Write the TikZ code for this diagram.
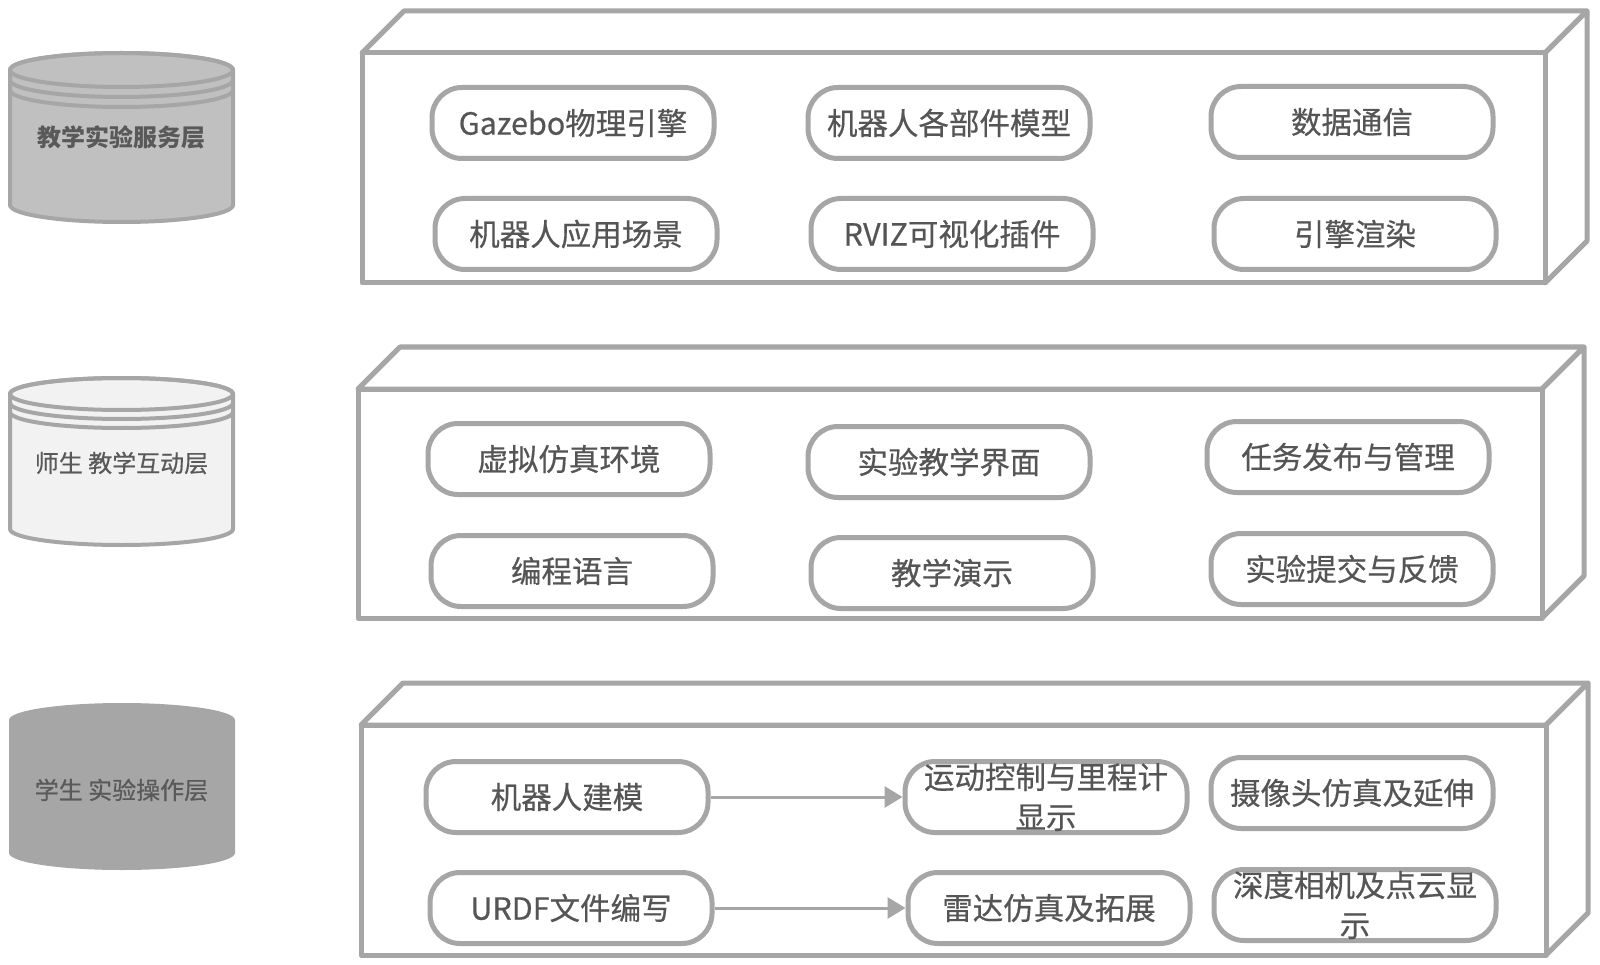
\documentclass[tikz,border=0pt]{standalone}
\usepackage{fontspec}
\setmainfont{Noto Sans CJK SC}
\newfontfamily\itemfont[FakeBold=0.5]{Noto Sans CJK SC}
\usetikzlibrary{arrows.meta}
\definecolor{edge}{HTML}{A6A6A6}
\definecolor{txt}{HTML}{555555}
\definecolor{ctxt}{HTML}{595959}
\tikzset{
  item/.style={draw=edge, line width=5pt, rounded corners=30pt, fill=white,
    minimum width=282pt, minimum height=71pt, text=txt, align=center,
    font=\itemfont\fontsize{30.5}{40}\selectfont, inner sep=0pt},
  facebox/.style={draw=edge, line width=5pt, fill=white, line join=round},
  arr/.style={draw=edge, line width=3pt, -{Triangle[length=18pt,width=21pt]}},
  cyltext/.style={text=ctxt, font=\itemfont\fontsize{24}{28}\selectfont, inner sep=0pt}
}
\newcommand\layerbox[4]{%
  \draw[facebox] (#1,#2) -- (#1+42,#2-42) -- (#3+42,#2-42) -- (#3,#2) -- cycle;
  \draw[facebox] (#3,#2) -- (#3+42,#2-42) -- (#3+42,#4-42) -- (#3,#4) -- cycle;
  \draw[facebox] (#1,#2) rectangle (#3,#4);
}
\begin{document}
\begin{tikzpicture}[x=1pt,y=-1pt]
\useasboundingbox (0,0) rectangle (1600,965);
% ---- cylinders
% cyl 1
\path[fill={rgb,255:red,192;green,192;blue,192}, draw=edge, line width=4pt]
  (10,70) -- (10,205) arc[start angle=180,end angle=0,x radius=111.5,y radius=17]
  -- (233,70) arc[start angle=0,end angle=-180,x radius=111.5,y radius=17] -- cycle;
\draw[edge, line width=4pt] (121.5,70) ellipse[x radius=111.5,y radius=17];
\draw[edge, line width=4pt] (10,80) arc[start angle=180,end angle=0,x radius=111.5,y radius=17];
\draw[edge, line width=4pt] (10,90) arc[start angle=180,end angle=0,x radius=111.5,y radius=17];
\node[cyltext, font=\fontsize{24}{28}\selectfont\bfseries] (c1) at (121.5,137) {教学实验服务层};
% cyl 2
\path[fill={rgb,255:red,242;green,242;blue,242}, draw=edge, line width=4pt]
  (10,394) -- (10,529) arc[start angle=180,end angle=0,x radius=111.5,y radius=16]
  -- (233,394) arc[start angle=0,end angle=-180,x radius=111.5,y radius=16] -- cycle;
\draw[edge, line width=4pt] (121.5,394) ellipse[x radius=111.5,y radius=16];
\draw[edge, line width=4pt] (10,403) arc[start angle=180,end angle=0,x radius=111.5,y radius=16];
\draw[edge, line width=4pt] (10,412) arc[start angle=180,end angle=0,x radius=111.5,y radius=16];
\node[cyltext] (c2) at (121.5,463) {师生 教学互动层};
% cyl 3
\path[fill=edge]
  (9,720) -- (9,853) arc[start angle=180,end angle=0,x radius=113,y radius=17]
  -- (235,720) arc[start angle=0,end angle=-180,x radius=113,y radius=17] -- cycle;
\node[cyltext] (c3) at (121.5,790) {学生 实验操作层};
% ---- layer boxes
\layerbox{362}{53}{1545}{283}
\layerbox{358}{389}{1542}{618}
\layerbox{361}{725}{1546}{955}
% ---- box 1 items
\node[item] (a1) at (573,123) {Gazebo物理引擎};
\node[item] (a2) at (949,123) {机器人各部件模型};
\node[item] (a3) at (1352,122) {数据通信};
\node[item] (a4) at (576,234) {机器人应用场景};
\node[item] (a5) at (952,234) {RVIZ可视化插件};
\node[item] (a6) at (1355,234) {引擎渲染};
% ---- box 2 items
\node[item] (b1) at (569,459) {虚拟仿真环境};
\node[item] (b2) at (949,462) {实验教学界面};
\node[item] (b3) at (1348,457) {任务发布与管理};
\node[item] (b4) at (572,571) {编程语言};
\node[item] (b5) at (952,573) {教学演示};
\node[item] (b6) at (1352,569) {实验提交与反馈};
% ---- box 3 items
\node[item] (d1) at (567,797) {机器人建模};
\node[item] (d2) at (1046,797) {运动控制与里程计\\显示};
\node[item] (d3) at (1352,793) {摄像头仿真及延伸};
\node[item] (d4) at (571,908) {URDF文件编写};
\node[item] (d5) at (1049,908) {雷达仿真及拓展};
\node[item] (d6) at (1355,905) {深度相机及点云显\\示};
\draw[arr] (d1) -- (d2);
\draw[arr] (d4) -- (d5);
\end{tikzpicture}
\end{document}
